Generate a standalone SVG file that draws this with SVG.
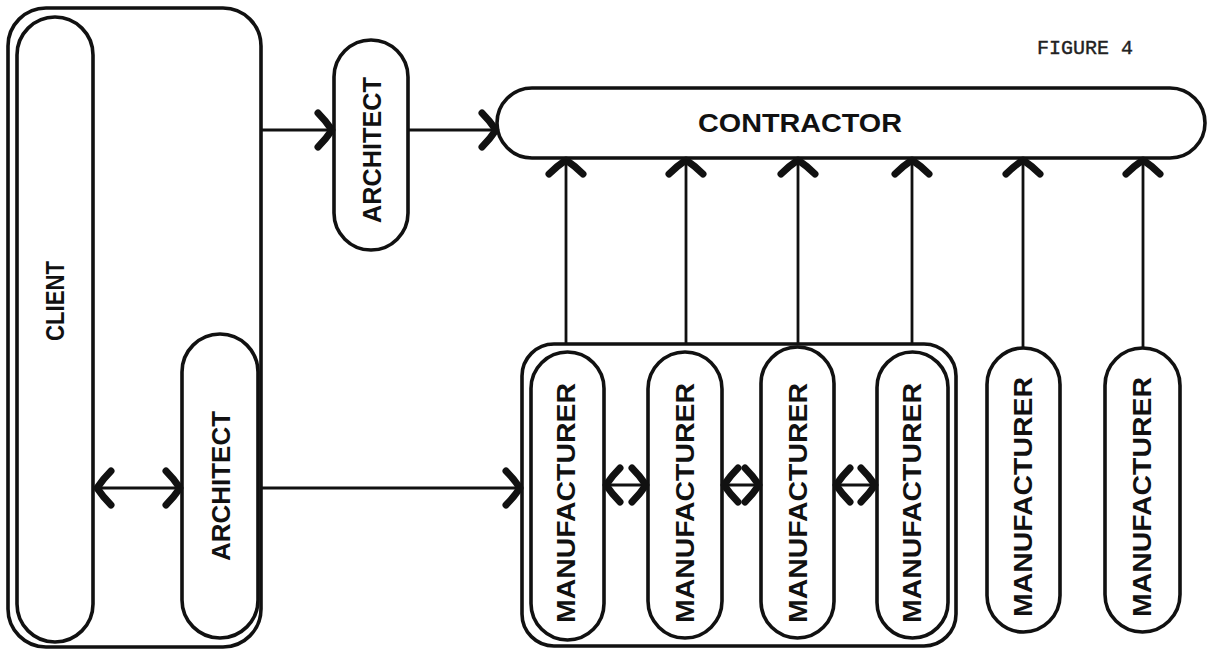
<svg xmlns="http://www.w3.org/2000/svg" width="1213" height="650" viewBox="0 0 1213 650">
<defs>
<style>
.box{fill:none;stroke:#111;stroke-width:3.6}
.ln{fill:none;stroke:#111;stroke-width:2.8}
.lbl{font-family:"Liberation Sans",Arial,sans-serif;font-weight:bold;font-size:26px;fill:#111;text-anchor:middle}
.fig{font-family:"Liberation Mono","Courier New",monospace;font-size:20px;fill:#222;stroke:#222;stroke-width:0.4}
</style>
<marker id="ah" markerUnits="userSpaceOnUse" viewBox="-22 -24 26 48" markerWidth="26" markerHeight="48" refX="0" refY="0" orient="auto-start-reverse" overflow="visible">
<path d="M-15,-17 Q-7,-9 -1,0 Q-7,9 -15,17" fill="none" stroke="#111" stroke-width="7" stroke-linecap="round" stroke-linejoin="round"/>
</marker>
</defs>
<rect width="1213" height="650" fill="#fff"/>

<g id="client-frame"><rect class="box" x="8" y="8" width="253" height="639" rx="38"/></g>
<g id="client"><rect class="box" x="17" y="17" width="76" height="625" rx="38"/>
<text class="lbl" transform="translate(55,301) rotate(-90)" dy="0.36em" textLength="80" lengthAdjust="spacingAndGlyphs">CLIENT</text></g>
<g id="architect-lower"><rect class="box" x="182" y="334" width="76" height="304" rx="38"/>
<text class="lbl" transform="translate(221,486) rotate(-90)" dy="0.36em" textLength="150" lengthAdjust="spacingAndGlyphs">ARCHITECT</text></g>
<g id="architect-upper"><rect class="box" x="334" y="40" width="74" height="210" rx="37"/>
<text class="lbl" transform="translate(372,150) rotate(-90)" dy="0.36em" textLength="146" lengthAdjust="spacingAndGlyphs">ARCHITECT</text></g>
<g id="contractor"><rect class="box" x="497" y="88" width="708" height="70" rx="35"/>
<text class="lbl" x="800" y="123" dy="0.36em" textLength="204" lengthAdjust="spacingAndGlyphs">CONTRACTOR</text></g>

<g id="manufacturer-group"><rect class="box" x="522" y="344" width="434" height="302" rx="32"/></g>
<g id="manufacturer-1"><rect class="box" x="531" y="352" width="73" height="288" rx="36.5"/>
<text class="lbl" transform="translate(566,503) rotate(-90)" dy="0.36em" textLength="240" lengthAdjust="spacingAndGlyphs">MANUFACTURER</text></g>
<g id="manufacturer-2"><rect class="box" x="648" y="352" width="74" height="286" rx="37"/>
<text class="lbl" transform="translate(685,503) rotate(-90)" dy="0.36em" textLength="240" lengthAdjust="spacingAndGlyphs">MANUFACTURER</text></g>
<g id="manufacturer-3"><rect class="box" x="761" y="347" width="73" height="291" rx="36.5"/>
<text class="lbl" transform="translate(798,503) rotate(-90)" dy="0.36em" textLength="240" lengthAdjust="spacingAndGlyphs">MANUFACTURER</text></g>
<g id="manufacturer-4"><rect class="box" x="877" y="352" width="71" height="286" rx="35.5"/>
<text class="lbl" transform="translate(912,503) rotate(-90)" dy="0.36em" textLength="240" lengthAdjust="spacingAndGlyphs">MANUFACTURER</text></g>
<g id="manufacturer-5"><rect class="box" x="987" y="348" width="73" height="284" rx="36.5"/>
<text class="lbl" transform="translate(1023,497) rotate(-90)" dy="0.36em" textLength="240" lengthAdjust="spacingAndGlyphs">MANUFACTURER</text></g>
<g id="manufacturer-6"><rect class="box" x="1105" y="348" width="75" height="284" rx="37.5"/>
<text class="lbl" transform="translate(1142,497) rotate(-90)" dy="0.36em" textLength="240" lengthAdjust="spacingAndGlyphs">MANUFACTURER</text></g>

<g id="label"><text class="fig" x="1037" y="54" textLength="96">FIGURE 4</text></g>

<g id="connectors">
<line class="ln" x1="261" y1="130" x2="333" y2="130" marker-end="url(#ah)"/>
<line class="ln" x1="408" y1="130" x2="497" y2="130" marker-end="url(#ah)"/>
<line class="ln" x1="96" y1="488" x2="181" y2="488" marker-start="url(#ah)" marker-end="url(#ah)"/>
<line class="ln" x1="261" y1="488" x2="521" y2="488" marker-end="url(#ah)"/>
<line class="ln" x1="605" y1="485" x2="647" y2="485" marker-start="url(#ah)" marker-end="url(#ah)"/>
<line class="ln" x1="723" y1="485" x2="760" y2="485" marker-start="url(#ah)" marker-end="url(#ah)"/>
<line class="ln" x1="835" y1="485" x2="876" y2="485" marker-start="url(#ah)" marker-end="url(#ah)"/>
<line class="ln" x1="566" y1="344" x2="566" y2="159" marker-end="url(#ah)"/>
<line class="ln" x1="686" y1="344" x2="686" y2="159" marker-end="url(#ah)"/>
<line class="ln" x1="798" y1="344" x2="798" y2="159" marker-end="url(#ah)"/>
<line class="ln" x1="912" y1="344" x2="912" y2="159" marker-end="url(#ah)"/>
<line class="ln" x1="1023" y1="348" x2="1023" y2="159" marker-end="url(#ah)"/>
<line class="ln" x1="1143" y1="348" x2="1143" y2="159" marker-end="url(#ah)"/>
</g>
</svg>
